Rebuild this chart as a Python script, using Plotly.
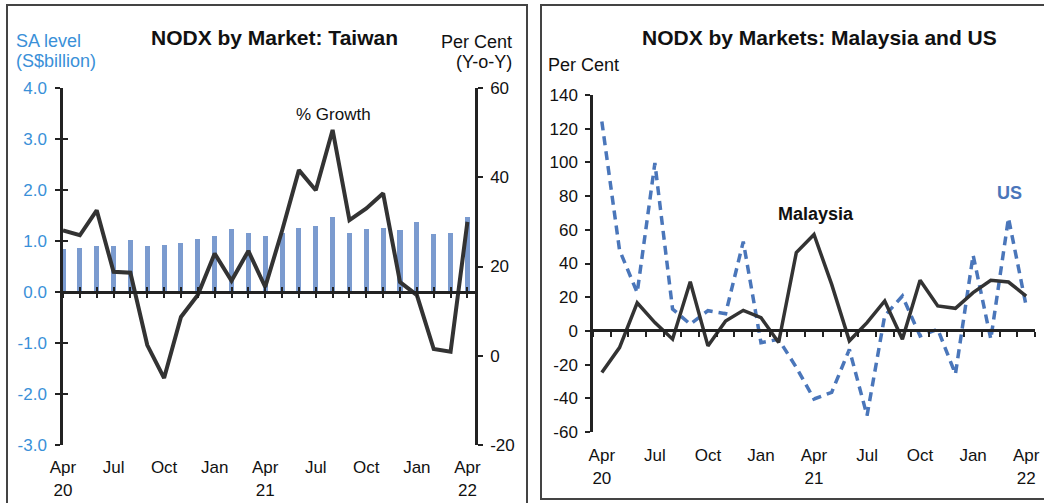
import plotly.graph_objects as go

W, H = 1044, 503

# ---------------- data ----------------
months = ["Apr 20", "May 20", "Jun 20", "Jul 20", "Aug 20", "Sep 20", "Oct 20", "Nov 20",
          "Dec 20", "Jan 21", "Feb 21", "Mar 21", "Apr 21", "May 21", "Jun 21", "Jul 21",
          "Aug 21", "Sep 21", "Oct 21", "Nov 21", "Dec 21", "Jan 22", "Feb 22", "Mar 22", "Apr 22"]

# Taiwan NODX, SA level (S$ billion)
tw_level = [0.85, 0.87, 0.91, 0.90, 1.02, 0.90, 0.92, 0.96, 1.04, 1.09, 1.23, 1.16, 1.09,
            1.16, 1.26, 1.29, 1.47, 1.16, 1.24, 1.26, 1.21, 1.37, 1.13, 1.16, 1.47]
# Taiwan NODX, % growth y-o-y
tw_growth = [28.1, 27.0, 32.6, 18.8, 18.6, 2.4, -5.0, 8.7, 13.6, 22.9, 16.8, 23.5, 15.4,
             28.0, 41.6, 37.1, 50.6, 30.4, 33.0, 36.4, 16.5, 13.6, 1.5, 0.9, 30.0]
# Malaysia and US NODX, % growth y-o-y
my_growth = [-24.7, -9.9, 16.7, 4.9, -4.9, 29.2, -8.9, 5.9, 12.2, 7.9, -6.9, 46.5, 57.2,
             27.6, -5.9, 4.9, 17.8, -4.9, 30.0, 14.8, 13.4, 22.7, 30.0, 29.0, 20.7]
us_growth = [124.3, 48.0, 22.7, 99.6, 13.0, 4.0, 12.0, 10.2, 53.0, -7.0, -5.0, -21.7, -40.4,
             -36.5, -11.0, -50.3, 9.0, 20.7, -3.0, 1.0, -25.6, 45.0, -4.9, 67.0, 14.8]

month_tick_text = ["Apr", "Jul", "Oct", "Jan", "Apr", "Jul", "Oct", "Jan", "Apr"]
year_tick_text = ["20", "21", "22"]
left_ticks = [-3, -2, -1, 0, 1, 2, 3, 4]
right_ticks = [-20, 0, 20, 40, 60]
my_ticks = [-60, -40, -20, 0, 20, 40, 60, 80, 100, 120, 140]

idx = list(range(len(months)))
month_tick_idx = [i for i, m in enumerate(months) if m[:3] in ("Apr", "Jul", "Oct", "Jan")]
year_tick_idx = [i for i, m in enumerate(months) if m[:3] == "Apr"]

# ---------------- style ----------------
FONT = "Liberation Sans, Arial, sans-serif"
BLUE_TXT = "#3a90d8"
BAR = "#7b9bcf"
DARK = "#333333"
AX = "#222222"
US_C = "#4a76ba"


def px_x(v):
    return v / W


def px_y(v):
    return 1 - v / H


fig = go.Figure()

# ---- left panel ----
fig.add_trace(go.Bar(x=idx, y=tw_level, xaxis="x", yaxis="y", width=0.3,
                     marker=dict(color=BAR, line=dict(width=0)), showlegend=False))
fig.add_trace(go.Scatter(x=idx, y=tw_growth, xaxis="x", yaxis="y2", mode="lines",
                         line=dict(color=DARK, width=4), showlegend=False))
# helper (invisible) traces so the auxiliary axes are drawn
for xa, ya in (("x3", "y"), ("x4", "y"), ("x8", "y"), ("x", "y4"), ("x6", "y3"), ("x7", "y3")):
    fig.add_trace(go.Scatter(x=idx, y=[None] * len(idx), xaxis=xa, yaxis=ya, mode="lines",
                             hoverinfo="skip", showlegend=False))

# ---- right panel ----
fig.add_trace(go.Scatter(x=idx, y=us_growth, xaxis="x5", yaxis="y3", mode="lines",
                         line=dict(color=US_C, width=3.5, dash="9px,6px"), showlegend=False))
fig.add_trace(go.Scatter(x=idx, y=my_growth, xaxis="x5", yaxis="y3", mode="lines",
                         line=dict(color=DARK, width=3.5), showlegend=False))

L_DOM = [px_x(63), px_x(475)]
L_RANGE = [0, 24.45]
L_YDOM = [px_y(445), px_y(88)]
R_DOM = [px_x(593), px_x(1035)]
R_RANGE = [-0.5, 24.5]

tickfont = dict(family=FONT, size=17, color="#111111")
common_line = dict(showline=True, linecolor=AX, linewidth=2.5, showgrid=False, zeroline=False,
                   ticks="outside", ticklen=5, tickwidth=1.5, tickcolor=AX, automargin=False)
inner_ticks = dict(showline=False, showgrid=False, zeroline=False, ticks="inside", ticklen=5,
                   tickwidth=1.5, tickcolor=AX, showticklabels=False, automargin=False)
label_axis = dict(showline=False, showgrid=False, zeroline=False, ticks="", tickmode="array",
                  tickfont=tickfont, automargin=False)
ZERO_L = px_y(291.7)

fig.update_layout(
    template="none",
    width=W, height=H, autosize=False,
    margin=dict(l=0, r=0, t=0, b=0, pad=0, autoexpand=False),
    paper_bgcolor="white", plot_bgcolor="rgba(0,0,0,0)",
    font=dict(family=FONT, color="#111111"),
    bargap=0,
    xaxis=dict(domain=L_DOM, range=L_RANGE, anchor="y", tickvals=month_tick_idx,
               ticktext=month_tick_text, ticklabelstandoff=10, **label_axis),
    xaxis3=dict(domain=L_DOM, range=L_RANGE, overlaying="x", anchor="free", position=ZERO_L,
                tickmode="linear", tick0=0, dtick=1, showticklabels=False, **common_line),
    xaxis8=dict(domain=L_DOM, range=L_RANGE, overlaying="x", anchor="free", position=ZERO_L,
                tickmode="linear", tick0=0, dtick=1, **inner_ticks),
    xaxis4=dict(domain=L_DOM, range=L_RANGE, overlaying="x", anchor="free", position=px_y(476),
                tickvals=year_tick_idx, ticktext=year_tick_text, ticklabelstandoff=2, **label_axis),
    yaxis=dict(domain=L_YDOM, range=[-3, 4], anchor="x",
               tickvals=left_ticks, ticktext=[f"{v:.1f}" for v in left_ticks],
               tickfont=dict(family=FONT, size=17, color=BLUE_TXT), ticklabelstandoff=5,
               **common_line),
    yaxis4=dict(domain=L_YDOM, range=[-3, 4], anchor="x", overlaying="y", side="left",
                tickvals=left_ticks, **inner_ticks),
    yaxis2=dict(domain=L_YDOM, range=[-20, 60], anchor="x", overlaying="y",
                side="right", tickvals=right_ticks, ticktext=[str(v) for v in right_ticks],
                tickfont=tickfont, ticklabelstandoff=4, **common_line),
    xaxis5=dict(domain=R_DOM, range=R_RANGE, anchor="y3", tickvals=month_tick_idx,
                ticktext=month_tick_text, ticklabelstandoff=11, **label_axis),
    xaxis6=dict(domain=R_DOM, range=R_RANGE, overlaying="x5", anchor="free", position=px_y(330),
                tickmode="linear", tick0=0.5, dtick=1, showticklabels=False, **common_line),
    xaxis7=dict(domain=R_DOM, range=R_RANGE, overlaying="x5", anchor="free", position=px_y(464),
                tickvals=year_tick_idx, ticktext=year_tick_text, ticklabelstandoff=2, **label_axis),
    yaxis3=dict(domain=[px_y(432), px_y(95)], range=[-60, 140], anchor="x5",
                tickvals=my_ticks, ticktext=[str(v) for v in my_ticks],
                tickfont=tickfont, ticklabelstandoff=4, **common_line),
)

ann = []


def text(x, y, s, size, color="#111111", bold=False, xanchor="center", xref="paper", yref="paper"):
    ann.append(dict(x=x, y=y, xref=xref, yref=yref, text=f"<b>{s}</b>" if bold else s,
                    showarrow=False, xanchor=xanchor, yanchor="middle",
                    font=dict(family=FONT, size=size, color=color)))


text(px_x(274), px_y(38), "NODX by Market: Taiwan", 21, bold=True)
text(px_x(14), px_y(41), "SA level", 18, BLUE_TXT, xanchor="left")
text(px_x(14), px_y(61), "(S$billion)", 18, BLUE_TXT, xanchor="left")
text(px_x(514), px_y(42), "Per Cent", 18, xanchor="right")
text(px_x(514), px_y(62), "(Y-o-Y)", 18, xanchor="right")
text(px_x(333), px_y(114), "% Growth", 17)

text(px_x(819), px_y(38), "NODX by Markets: Malaysia and US", 21, bold=True)
text(px_x(546), px_y(65), "Per Cent", 18, xanchor="left")
text(px_x(816), px_y(214), "Malaysia", 18, bold=True)
text(px_x(1009), px_y(193), "US", 18, US_C, bold=True)

fig.update_layout(annotations=ann)

# panel frames
fig.update_layout(shapes=[
    dict(type="rect", xref="paper", yref="paper", x0=px_x(7), x1=px_x(527), y0=px_y(515),
         y1=px_y(5), line=dict(color="#444444", width=2)),
    dict(type="rect", xref="paper", yref="paper", x0=px_x(541), x1=px_x(1060), y0=px_y(499),
         y1=px_y(5), line=dict(color="#444444", width=2)),
])

fig.write_html("out.html", config={"displayModeBar": False},
               post_script="document.body.style.margin='0px';document.body.style.overflow='hidden';")
